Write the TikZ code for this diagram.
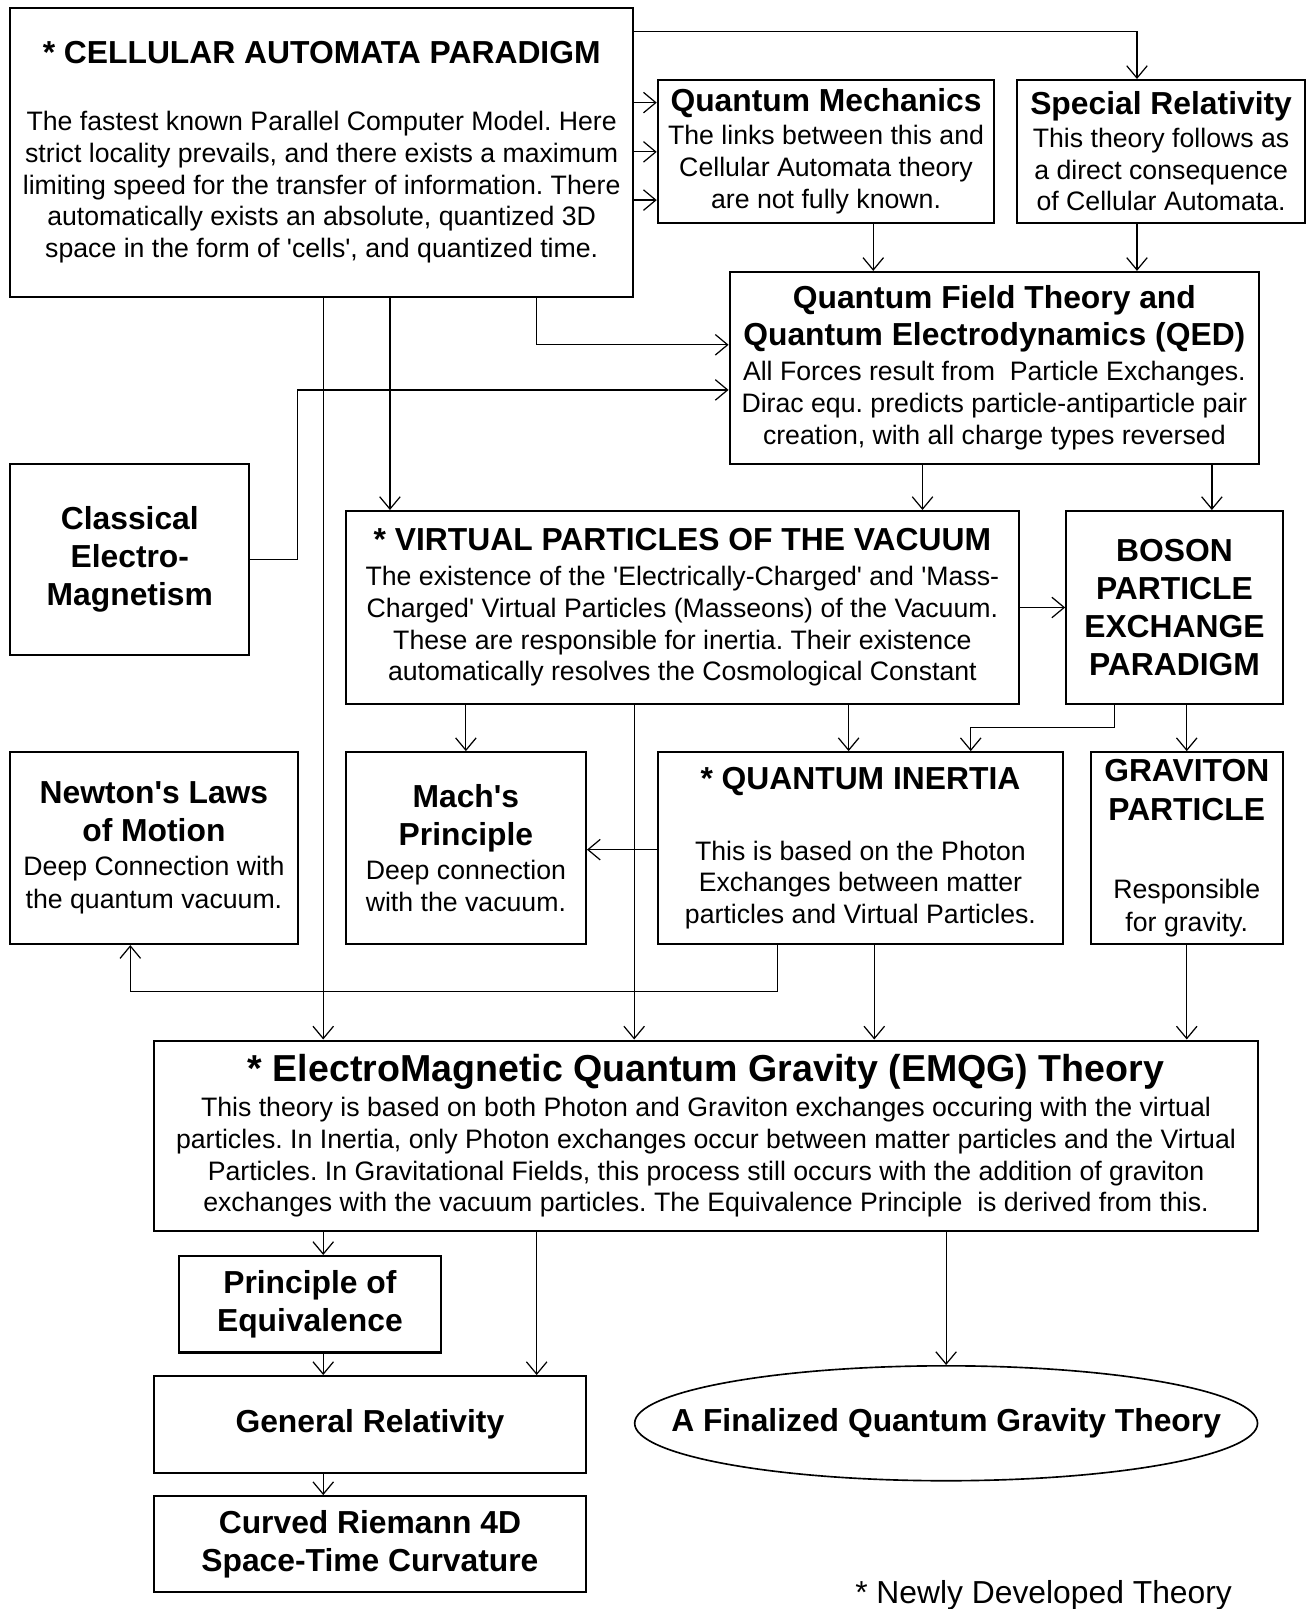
\documentclass[tikz,border=0pt]{standalone}
\usepackage{fontspec}
\setmainfont{Liberation Sans}[Ligatures=TeXOff]
\usetikzlibrary{arrows.meta,shapes.geometric}

\newcommand{\txtfont}{\fontsize{13}{15.5}\selectfont}
\newcommand{\hdfont}{\fontsize{15.5}{18.5}\selectfont\bfseries}
\newcommand{\bighdfont}{\fontsize{18.3}{21}\selectfont\bfseries}
\frenchspacing

\begin{document}
\begin{tikzpicture}[x=0.5pt,y=-0.5pt,
		box/.style={rectangle,draw,line width=1pt,inner sep=0pt,align=center,font=\txtfont},
		goal/.style={ellipse,draw,line width=0.8pt,inner sep=0pt,font=\hdfont},
		link/.style={draw,line width=0.6pt,-{Straight Barb[length=6pt,width=10pt]}}]
		\fill[white] (0,0) rectangle (1280,1568);
		\useasboundingbox (0,0) rectangle (1280,1568);

		\begin{scope}[every node/.style={box}]
			\node[minimum width=303.5pt,minimum height=140.5pt] (ca) at (313.5,148.5)
				{\hdfont * CELLULAR AUTOMATA PARADIGM\\[17pt]
				The fastest known Parallel Computer Model. Here\\
				strict locality prevails, and there exists a maximum\\
				limiting speed for the transfer of information. There\\
				automatically exists an absolute, quantized 3D\\
				space in the form of 'cells', and quantized time.};
			\node[minimum width=164pt,minimum height=69.5pt] (qm) at (805,147.5)
				{\hdfont Quantum Mechanics\\[0.5pt]
				The links between this and\\
				Cellular Automata theory\\
				are not fully known.};
			\node[minimum width=140.5pt,minimum height=69.5pt] (sr) at (1131.5,147.5)
				{\hdfont Special Relativity\\[0.5pt]
				This theory follows as\\
				a direct consequence\\
				of Cellular Automata.};
			\node[minimum width=258pt,minimum height=93.5pt] (qft) at (969,358.5)
				{\hdfont Quantum Field Theory and\\[2.5pt]
				\hdfont Quantum Electrodynamics (QED)\\[1.5pt]
				All Forces result from\ \ Particle Exchanges.\\
				Dirac equ. predicts particle-antiparticle pair\\
				creation, with all charge types reversed};
			\node[minimum width=116.5pt,minimum height=93pt,font=\hdfont] (cem) at (126.5,545)
				{Classical\\ Electro-\\ Magnetism};
			\node[minimum width=328pt,minimum height=94pt] (vp) at (665,592)
				{\hdfont * VIRTUAL PARTICLES OF THE VACUUM\\[1.5pt]
				The existence of the 'Electrically-Charged' and 'Mass-\\
				Charged' Virtual Particles (Masseons) of the Vacuum.\\
				These are responsible for inertia. Their existence\\
				automatically resolves the Cosmological Constant};
			\node[minimum width=105.5pt,minimum height=94pt,font=\hdfont] (boson) at (1144.5,592)
				{BOSON\\ PARTICLE\\ EXCHANGE\\ PARADIGM};
			\node[minimum width=140pt,minimum height=93.5pt] (newton) at (150,826.5)
				{\hdfont Newton's Laws\\[3pt]
				\hdfont of Motion\\[1pt]
				Deep Connection with\\[0.5pt]
				the quantum vacuum.};
			\node[minimum width=117pt,minimum height=93.5pt] (mach) at (454,826.5)
				{\hdfont Mach's\\[3pt]
				\hdfont Principle\\[1pt]
				Deep connection\\[0.5pt]
				with the vacuum.};
			\node[minimum width=197.5pt,minimum height=93.5pt] (qi) at (838.5,826.5)
				{\hdfont * QUANTUM INERTIA\\[19pt]
				This is based on the Photon\\
				Exchanges between matter\\
				particles and Virtual Particles.};
			\node[minimum width=93.5pt,minimum height=93.5pt] (grav) at (1156.5,826.5)
				{\hdfont GRAVITON\\[3.5pt]
				\hdfont PARTICLE\\[22.5pt]
				Responsible\\[0.5pt]
				for gravity.};
			\node[minimum width=538pt,minimum height=93pt] (emqg) at (688,1107)
				{\bighdfont * ElectroMagnetic Quantum Gravity (EMQG) Theory\\[1.5pt]
				This theory is based on both Photon and Graviton exchanges occuring with the virtual\\
				particles. In Inertia, only Photon exchanges occur between matter particles and the Virtual\\
				Particles. In Gravitational Fields, this process still occurs with the addition of graviton\\
				exchanges with the vacuum particles. The Equivalence Principle\ \ is derived from this.};
			\node[minimum width=128pt,minimum height=47pt,font=\hdfont] (poe) at (302,1271)
				{Principle of\\ Equivalence};
			\node[minimum width=210.5pt,minimum height=47pt,font=\hdfont] (gr) at (360.5,1388)
				{General Relativity};
			\node[minimum width=210.5pt,minimum height=46.5pt,font=\hdfont] (curv) at (360.5,1504.5)
				{Curved Riemann 4D\\ Space-Time Curvature};
		\end{scope}

		\node[goal,minimum width=303.5pt,minimum height=56pt] (fin) at (922,1387)
			{\makebox[0pt]{A Finalized Quantum Gravity Theory}};
		\node[font=\fontsize{15.5}{18.5}\selectfont,anchor=base] (note) at (1017,1563)
			{* Newly Developed Theory};

		% top part
		\path[link] (ca.east |- 0,31) -| (sr.north -| 1108,0);
		\foreach \yy in {100,148,195}
			\path[link] (ca.east |- 0,\yy) -- (qm.west |- 0,\yy);
		\path[link] (qm.south -| 851,0) -- (qft.north -| 851,0);
		\path[link] (sr.south -| 1108,0) -- (qft.north -| 1108,0);
		\path[link] (ca.south -| 523,0) |- (qft.west |- 0,336);
		\path[link] (cem.east) -| (290,380) -- (qft.west |- 0,380);
		\path[link] (ca.south -| 380,0) -- (vp.north -| 380,0);
		\path[link] (ca.south -| 315,0) -- (emqg.north -| 315,0);
		\path[link] (qft.south -| 899,0) -- (vp.north -| 899,0);
		\path[link] (qft.south -| 1181,0) -- (boson.north -| 1181,0);
		\path[link] (vp.east) -- (boson.west);

		% middle part
		\path[link] (vp.south -| mach.north) -- (mach.north);
		\path[link] (vp.south -| 827,0) -- (qi.north -| 827,0);
		\path[link] (vp.south -| 618,0) -- (emqg.north -| 618,0);
		\path[link] (boson.south -| 1086,0) -- (1086,709) -| (qi.north -| 946,0);
		\path[link] (boson.south -| grav.north) -- (grav.north);
		\path[link] (qi.west |- 0,828) -- (mach.east |- 0,828);
		\path[link] (qi.south -| 758,0) -- (758,966) -| (newton.south -| 127,0);
		\path[link] (qi.south -| 852,0) -- (emqg.north -| 852,0);
		\path[link] (grav.south) -- (emqg.north -| grav.south);

		% bottom part
		\path[link] (emqg.south -| 315,0) -- (poe.north -| 315,0);
		\path[link] (emqg.south -| 523,0) -- (gr.north -| 523,0);
		\path[link] (emqg.south -| fin.north) -- (fin.north);
		\path[link] (poe.south -| 315,0) -- (gr.north -| 315,0);
		\path[link] (gr.south -| 315,0) -- (curv.north -| 315,0);

	\end{tikzpicture}
\end{document}
